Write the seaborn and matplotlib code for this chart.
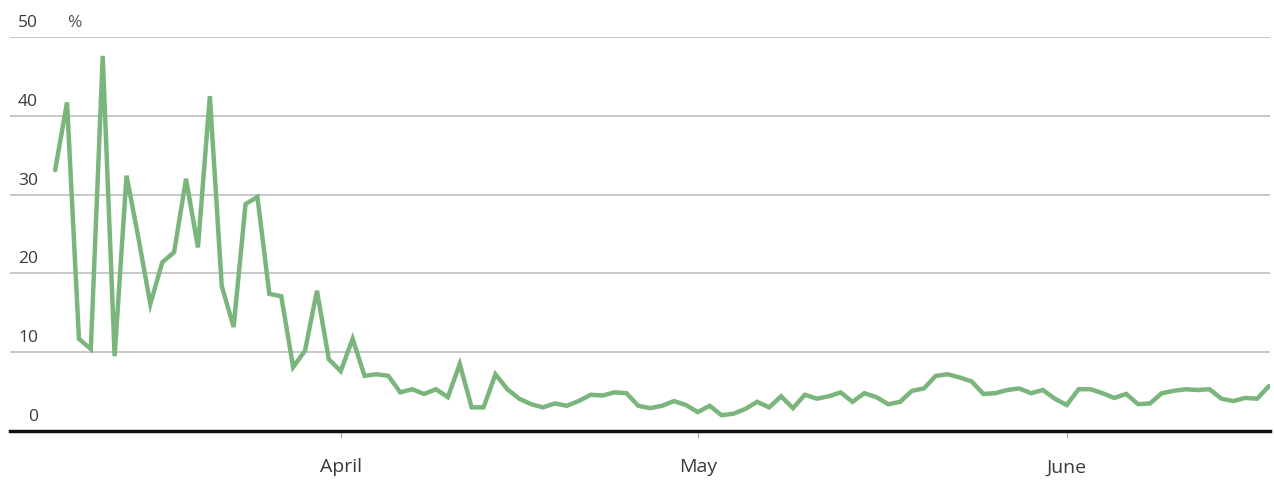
import pandas as pd
import seaborn as sns
import matplotlib.pyplot as plt
import matplotlib.transforms as mtransforms

sns.set_style("white")
plt.rcParams["font.family"] = ["Open Sans", "DejaVu Sans"]

start_date = "2020-03-08"
share_pct = [
    33.1, 41.7, 11.7, 10.4, 47.6, 9.5, 32.4, 24.5, 16.1, 21.4,
    22.7, 32.0, 23.3, 42.5, 18.4, 13.2, 28.8, 29.7, 17.4, 17.1,
    8.1, 10.2, 17.8, 9.1, 7.6, 11.7, 7.0, 7.2, 7.0, 4.9,
    5.3, 4.7, 5.3, 4.3, 8.5, 3.0, 3.0, 7.2, 5.3, 4.1,
    3.4, 3.0, 3.5, 3.2, 3.8, 4.6, 4.5, 4.9, 4.8, 3.2,
    2.9, 3.2, 3.8, 3.3, 2.4, 3.2, 2.0, 2.2, 2.8, 3.7,
    3.0, 4.4, 2.9, 4.6, 4.1, 4.4, 4.9, 3.7, 4.8, 4.3,
    3.4, 3.7, 5.1, 5.4, 7.0, 7.2, 6.8, 6.3, 4.7, 4.8,
    5.2, 5.4, 4.8, 5.2, 4.1, 3.3, 5.3, 5.3, 4.8, 4.2,
    4.7, 3.4, 3.5, 4.8, 5.1, 5.3, 5.2, 5.3, 4.1, 3.8,
    4.2, 4.1, 5.7,
]
y_ticks = [0, 10, 20, 30, 40, 50]
x_ticks = ["2020-04-01", "2020-05-01", "2020-06-01"]
x_tick_labels = ["April", "May", "June"]

df = pd.DataFrame({
    "date": pd.date_range(start_date, periods=len(share_pct), freq="D"),
    "share": share_pct,
})

fig = plt.figure(figsize=(12.74, 4.81), dpi=100)
ax = fig.add_axes([10 / 1274, 49 / 481, 1260 / 1274, 394 / 481])

sns.lineplot(data=df, x="date", y="share", ax=ax, color="#7ab57c",
             linewidth=3.2, solid_joinstyle="miter")

ax.set_xlim(pd.Timestamp("2020-03-04 05:00"), pd.Timestamp("2020-06-18 02:00"))
ax.set_ylim(0, 50)

# horizontal gridlines, labels sit above them on the left
for v in y_ticks[1:]:
    ax.axhline(v, color="#c8c8c8", linewidth=1.4, zorder=0)
ax.set_yticks([])
offset = mtransforms.offset_copy(ax.get_yaxis_transform(), fig=fig, x=0, y=7, units="dots")
for v in y_ticks:
    ax.text(28 / 1260, v, str(v), transform=offset, ha="right", va="bottom",
            fontsize=12.5, color="#3a3a3a")
ax.text(57 / 1260, 50, "%", transform=offset, ha="left", va="bottom",
        fontsize=12.5, color="#555555")

ax.set_xticks(pd.to_datetime(x_ticks))
ax.set_xticklabels(x_tick_labels)
ax.tick_params(axis="x", length=5, width=0.8, color="#aaaaaa", labelsize=14,
               labelcolor="#3a3a3a", pad=14, bottom=True)

for side in ["top", "right", "left"]:
    ax.spines[side].set_visible(False)
ax.spines["bottom"].set_color("#111111")
ax.spines["bottom"].set_linewidth(2.5)

ax.set_xlabel("")
ax.set_ylabel("")

fig.savefig("out.png", dpi=100)
